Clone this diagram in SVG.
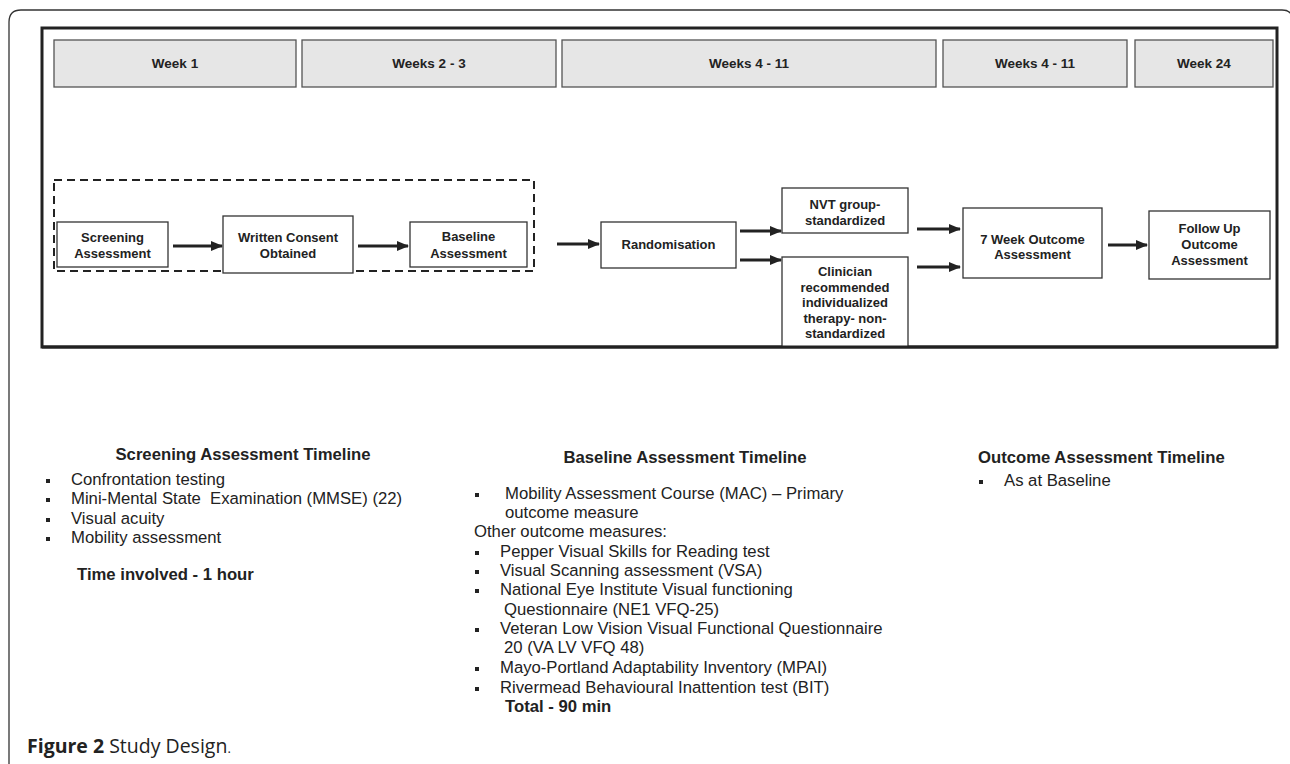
<svg xmlns="http://www.w3.org/2000/svg" width="1290" height="764" viewBox="0 0 1290 764">
<style>
.hdr{fill:#e6e6e6;stroke:#555;stroke-width:1.3}
.box{fill:#fff;stroke:#333;stroke-width:1.3}
.bt{font-family:"Liberation Sans",Arial,sans-serif;font-weight:bold;font-size:13px;fill:#222;text-anchor:middle}
.ht{font-family:"Liberation Sans",Arial,sans-serif;font-weight:bold;font-size:13.5px;fill:#222;text-anchor:middle}
.conn line{stroke:#222;stroke-width:3}
.tx{font-family:"Liberation Sans",Arial,sans-serif;font-size:16.7px;fill:#222}
.tb{font-family:"Liberation Sans",Arial,sans-serif;font-size:16.7px;fill:#222;font-weight:bold}
.bul{fill:#222}
</style>
<defs>
<marker id="ah" markerWidth="12" markerHeight="10" refX="11" refY="5" orient="auto" markerUnits="userSpaceOnUse">
<path d="M0,0 L12,5 L0,10 Z" fill="#222"/>
</marker>
</defs>
<rect width="1290" height="764" fill="#fff"/>
<!-- outer frame -->
<path d="M9,770 V22 Q9,10 21,10 H1282 Q1290,10 1292,16" fill="none" stroke="#333" stroke-width="1.3"/>
<!-- inner frame -->
<rect x="42" y="28" width="1235" height="319" fill="none" stroke="#222" stroke-width="3"/>

<!-- header boxes -->
<g id="h1"><rect class="hdr" x="54" y="40" width="242" height="47"/><text class="ht" x="175" y="68">Week 1</text></g>
<g id="h2"><rect class="hdr" x="302" y="40" width="254" height="47"/><text class="ht" x="429" y="68">Weeks 2 - 3</text></g>
<g id="h3"><rect class="hdr" x="562" y="40" width="374" height="47"/><text class="ht" x="749" y="68">Weeks 4 - 11</text></g>
<g id="h4"><rect class="hdr" x="943" y="40" width="184" height="47"/><text class="ht" x="1035" y="68">Weeks 4 - 11</text></g>
<g id="h5"><rect class="hdr" x="1135" y="40" width="138" height="47"/><text class="ht" x="1204" y="68">Week 24</text></g>

<!-- dashed group -->
<rect id="screening-group" x="54" y="180" width="480" height="91" fill="none" stroke="#222" stroke-width="2" stroke-dasharray="8,5"/>

<g id="screening"><rect class="box" x="57" y="222" width="111" height="45"/><text class="bt" x="112.5" y="242">Screening</text><text class="bt" x="112.5" y="258">Assessment</text></g>
<g id="consent"><rect class="box" x="223" y="216" width="130" height="57"/><text class="bt" x="288" y="242">Written Consent</text><text class="bt" x="288" y="258">Obtained</text></g>
<g id="baseline"><rect class="box" x="410" y="222" width="117" height="45"/><text class="bt" x="468.5" y="241">Baseline</text><text class="bt" x="468.5" y="258">Assessment</text></g>
<g id="random"><rect class="box" x="601" y="222" width="135" height="46"/><text class="bt" x="668.5" y="249">Randomisation</text></g>
<g id="nvt"><rect class="box" x="782" y="188" width="126" height="45"/><text class="bt" x="845" y="209">NVT group-</text><text class="bt" x="845" y="225">standardized</text></g>
<g id="clinician"><rect class="box" x="782" y="257" width="126" height="90"/><text class="bt" x="845" y="276">Clinician</text><text class="bt" x="845" y="291.5">recommended</text><text class="bt" x="845" y="307">individualized</text><text class="bt" x="845" y="322.5">therapy- non-</text><text class="bt" x="845" y="338">standardized</text></g>
<g id="week7"><rect class="box" x="963" y="208" width="139" height="70"/><text class="bt" x="1032.5" y="244">7 Week Outcome</text><text class="bt" x="1032.5" y="259">Assessment</text></g>
<g id="followup"><rect class="box" x="1149" y="211" width="121" height="68"/><text class="bt" x="1209.5" y="233">Follow Up</text><text class="bt" x="1209.5" y="249">Outcome</text><text class="bt" x="1209.5" y="265">Assessment</text></g>

<rect x="42" y="345.5" width="1235" height="3" fill="#222"/>

<g id="connectors" class="conn">
<line x1="173" y1="246" x2="222" y2="246" marker-end="url(#ah)"/>
<line x1="358" y1="246" x2="408" y2="246" marker-end="url(#ah)"/>
<line x1="557" y1="244" x2="599" y2="244" marker-end="url(#ah)"/>
<line x1="740" y1="231" x2="781" y2="231" marker-end="url(#ah)"/>
<line x1="740" y1="260" x2="781" y2="260" marker-end="url(#ah)"/>
<line x1="917" y1="229" x2="960" y2="229" marker-end="url(#ah)"/>
<line x1="917" y1="267" x2="960" y2="267" marker-end="url(#ah)"/>
<line x1="1108" y1="245" x2="1147" y2="245" marker-end="url(#ah)"/>
</g>

<!-- Screening timeline -->
<g id="screening-timeline">
<text class="tb" x="243" y="460" text-anchor="middle">Screening Assessment Timeline</text>
<rect class="bul" x="46" y="479" width="4" height="4"/><text class="tx" x="71" y="485">Confrontation testing</text>
<rect class="bul" x="46" y="498" width="4" height="4"/><text class="tx" x="71" y="504" xml:space="preserve">Mini-Mental State  Examination (MMSE) (22)</text>
<rect class="bul" x="46" y="518" width="4" height="4"/><text class="tx" x="71" y="524">Visual acuity</text>
<rect class="bul" x="46" y="537" width="4" height="4"/><text class="tx" x="71" y="543">Mobility assessment</text>
<text class="tb" x="77" y="580">Time involved - 1 hour</text>
</g>

<!-- Baseline timeline -->
<g id="baseline-timeline">
<text class="tb" x="685" y="463" text-anchor="middle">Baseline Assessment Timeline</text>
<rect class="bul" x="475" y="493" width="4" height="4"/><text class="tx" x="505" y="499">Mobility Assessment Course (MAC) – Primary</text>
<text class="tx" x="505" y="518">outcome measure</text>
<text class="tx" x="474" y="537">Other outcome measures:</text>
<rect class="bul" x="475" y="551" width="4" height="4"/><text class="tx" x="500" y="557">Pepper Visual Skills for Reading test</text>
<rect class="bul" x="475" y="570" width="4" height="4"/><text class="tx" x="500" y="576">Visual Scanning assessment (VSA)</text>
<rect class="bul" x="475" y="589" width="4" height="4"/><text class="tx" x="500" y="595">National Eye Institute Visual functioning</text>
<text class="tx" x="504" y="615">Questionnaire (NE1 VFQ-25)</text>
<rect class="bul" x="475" y="628" width="4" height="4"/><text class="tx" x="500" y="634">Veteran Low Vision Visual Functional Questionnaire</text>
<text class="tx" x="504" y="653">20 (VA LV VFQ 48)</text>
<rect class="bul" x="475" y="667" width="4" height="4"/><text class="tx" x="500" y="673">Mayo-Portland Adaptability Inventory (MPAI)</text>
<rect class="bul" x="475" y="687" width="4" height="4"/><text class="tx" x="500" y="693">Rivermead Behavioural Inattention test (BIT)</text>
<text class="tb" x="505" y="712">Total - 90 min</text>
</g>

<!-- Outcome timeline -->
<g id="outcome-timeline">
<text class="tb" x="978" y="463">Outcome Assessment Timeline</text>
<rect class="bul" x="979" y="480" width="4" height="4"/><text class="tx" x="1004" y="486">As at Baseline</text>
</g>

<text x="27" y="753" font-family="'Open Sans','Noto Sans',sans-serif" font-size="19.5" fill="#222"><tspan font-weight="bold">Figure 2</tspan> Study Design<tspan font-size="13">.</tspan></text>
</svg>
